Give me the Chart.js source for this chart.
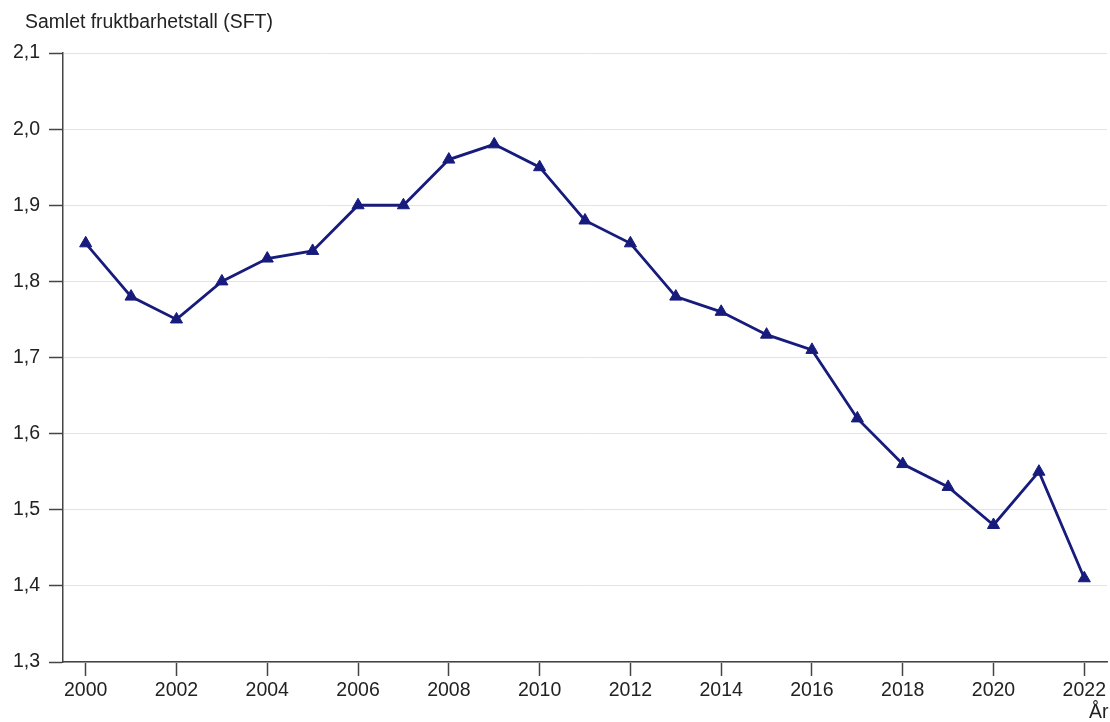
<!DOCTYPE html>
<html><head><meta charset="utf-8">
<script src="https://cdn.jsdelivr.net/npm/chart.js@4/dist/chart.umd.min.js"></script>
<style>
html,body{margin:0;padding:0;background:#fff;overflow:hidden;}
#wrap{position:relative;width:1110px;height:722px;overflow:hidden;}
canvas{position:absolute;left:0;top:0;}
.lbl{position:absolute;font-family:"Liberation Sans",Arial,sans-serif;font-size:19.4px;color:#222;white-space:nowrap;}
</style></head>
<body>
<div id="wrap">
<canvas id="c" width="1115" height="722"></canvas>
<div class="lbl" id="title" style="left:25px;top:10px;">Samlet fruktbarhetstall (SFT)</div>
<div class="lbl" id="xt" style="left:1089px;top:700px;">År</div>
</div>
<script>
const years = [2000,2001,2002,2003,2004,2005,2006,2007,2008,2009,2010,2011,2012,2013,2014,2015,2016,2017,2018,2019,2020,2021,2022];
const sft = [1.85,1.78,1.75,1.80,1.83,1.84,1.90,1.90,1.96,1.98,1.95,1.88,1.85,1.78,1.76,1.73,1.71,1.62,1.56,1.53,1.48,1.55,1.41];
const xTickYears = [2000,2002,2004,2006,2008,2010,2012,2014,2016,2018,2020,2022];
const yMin = 1.3, yMax = 2.1, yStep = 0.1;

const navy = '#171b7c';
const tickFont = {family: '"Liberation Sans", Arial, sans-serif', size: 19.5};
new Chart(document.getElementById('c'), {
  type: 'line',
  data: {
    datasets: [{
      data: years.map((y,i)=>({x:y, y:sft[i]})),
      borderColor: navy,
      backgroundColor: navy,
      borderWidth: 2.8,
      pointStyle: 'triangle',
      pointRadius: 7,
      pointBorderWidth: 1,
      tension: 0
    }]
  },
  options: {
    responsive: false,
    animation: false,
    devicePixelRatio: 1,
    layout: {padding: {top: 53, right: 0, left: 0, bottom: 0}},
    plugins: {legend: {display: false}, tooltip: {enabled: false}, title: {display: false}},
    scales: {
      x: {
        type: 'linear',
        min: 1999.5, max: 2022.5,
        afterBuildTicks: s => { s.ticks = xTickYears.map(v => ({value: v})); },
        afterFit: s => { s.height = 60; },
        grid: {drawOnChartArea: false, drawTicks: true, tickLength: 14, tickColor: '#444', tickWidth: 1.5},
        border: {display: true, color: '#444', width: 1.5},
        ticks: {
          autoSkip: false, maxRotation: 0, padding: 3,
          color: '#222',
          font: tickFont,
          callback: v => String(v)
        }
      },
      y: {
        min: yMin, max: yMax,
        afterFit: s => { s.width = 63; },
        grid: {color: '#e3e3e3', lineWidth: 1, drawTicks: true, tickLength: 14, tickColor: '#444', tickWidth: 1.5},
        border: {display: true, color: '#444', width: 1.5},
        ticks: {
          stepSize: yStep, padding: 9,
          color: '#222',
          font: tickFont,
          callback: v => Number(v).toFixed(1).replace('.', ',')
        }
      }
    }
  }
});
</script>
</body></html>
